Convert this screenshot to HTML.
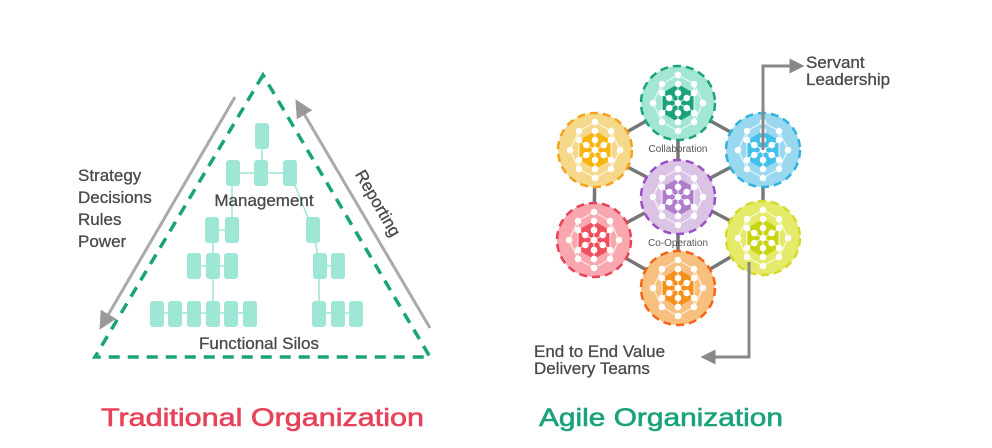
<!DOCTYPE html>
<html><head><meta charset="utf-8"><style>
html,body{margin:0;padding:0;background:#fff;}
svg{display:block;font-family:"Liberation Sans",sans-serif;}
</style></head><body>
<svg width="992" height="448" viewBox="0 0 992 448" xmlns="http://www.w3.org/2000/svg">
<defs>
<marker id="ah" markerWidth="6" markerHeight="6" refX="3" refY="3" orient="auto" markerUnits="strokeWidth">
<path d="M0,0 L6,3 L0,6 z" fill="#999"/></marker>
<marker id="ah2" markerWidth="5" markerHeight="5" refX="2.5" refY="2.5" orient="auto" markerUnits="strokeWidth">
<path d="M0,0 L5,2.5 L0,5 z" fill="#888"/></marker>
<g id="net">
<polygon points="0,-19 16.5,-9.5 16.5,9.5 0,19 -16.5,9.5 -16.5,-9.5" fill="currentColor"/>
<g stroke="#fff" stroke-width="1" opacity="0.9">
<line x1="0" y1="-28" x2="-16" y2="-19"/><line x1="0" y1="-28" x2="16" y2="-19"/>
<line x1="-25" y1="0" x2="-16" y2="-19"/><line x1="-25" y1="0" x2="-16" y2="19"/>
<line x1="25" y1="0" x2="16" y2="-19"/><line x1="25" y1="0" x2="16" y2="19"/>
<line x1="0" y1="28" x2="-16" y2="19"/><line x1="0" y1="28" x2="16" y2="19"/>
<line x1="-16" y1="-19" x2="-16" y2="19"/><line x1="16" y1="-19" x2="16" y2="19"/>
<line x1="0" y1="-19" x2="0" y2="19"/><line x1="-16" y1="-9" x2="16" y2="9"/><line x1="16" y1="-9" x2="-16" y2="9"/>
</g>
<g fill="#fff">
<circle r="3.3"/>
<circle cx="0" cy="-10" r="3.3"/><circle cx="8.7" cy="-5" r="3.3"/><circle cx="8.7" cy="5" r="3.3"/>
<circle cx="0" cy="10" r="3.3"/><circle cx="-8.7" cy="5" r="3.3"/><circle cx="-8.7" cy="-5" r="3.3"/>
<circle cx="0" cy="-19" r="3.3"/><circle cx="0" cy="19" r="3.3"/>
<circle cx="-16" cy="-10" r="3.3"/><circle cx="16" cy="-10" r="3.3"/><circle cx="-16" cy="10" r="3.3"/><circle cx="16" cy="10" r="3.3"/>
<circle cx="0" cy="-28" r="3.3"/><circle cx="-25" cy="0" r="3.3"/><circle cx="25" cy="0" r="3.3"/>
<circle cx="-16" cy="-19" r="3.3"/><circle cx="16" cy="-19" r="3.3"/><circle cx="-16" cy="19" r="3.3"/><circle cx="16" cy="19" r="3.3"/>
<circle cx="0" cy="28" r="3.3"/>
</g>
</g>
</defs>

<!-- Traditional -->
<polygon points="263,75 95,357 430,357" fill="none" stroke="#1aa37a" stroke-width="3.5" stroke-dasharray="11,8"/>
<line x1="235" y1="97" x2="104" y2="322" stroke="#aaa" stroke-width="3" marker-end="url(#ah)"/>
<line x1="430" y1="328" x2="300" y2="107" stroke="#aaa" stroke-width="3" marker-end="url(#ah)"/>

<g stroke="#9ee6d5" stroke-width="1.5" fill="none">
<line x1="262" y1="135" x2="262" y2="173"/><line x1="232" y1="173" x2="290" y2="173"/>
<line x1="232" y1="173" x2="232" y2="230"/><line x1="212" y1="230" x2="232" y2="230"/>
<line x1="213" y1="230" x2="213" y2="313"/><line x1="194" y1="266" x2="232" y2="266"/>
<line x1="157" y1="313" x2="250" y2="313"/>
<line x1="290" y1="173" x2="313" y2="230"/><line x1="313" y1="230" x2="320" y2="266"/>
<line x1="320" y1="266" x2="338" y2="266"/><line x1="319" y1="266" x2="319" y2="313"/>
<line x1="319" y1="313" x2="356" y2="313"/>
</g>
<g fill="#9ee6d5">
<rect x="255" y="123" width="14" height="26" rx="3"/>
<rect x="226" y="160" width="14" height="26" rx="3"/><rect x="254" y="160" width="14" height="26" rx="3"/><rect x="283" y="160" width="14" height="26" rx="3"/>
<rect x="205" y="217" width="14" height="26" rx="3"/><rect x="225" y="217" width="14" height="26" rx="3"/>
<rect x="187" y="253" width="14" height="26" rx="3"/><rect x="206" y="253" width="14" height="26" rx="3"/><rect x="224" y="253" width="14" height="26" rx="3"/>
<rect x="150" y="301" width="14" height="26" rx="3"/><rect x="168" y="301" width="14" height="26" rx="3"/><rect x="187" y="301" width="14" height="26" rx="3"/><rect x="206" y="301" width="14" height="26" rx="3"/><rect x="224" y="301" width="14" height="26" rx="3"/><rect x="243" y="301" width="14" height="26" rx="3"/>
<rect x="306" y="217" width="14" height="26" rx="3"/>
<rect x="313" y="253" width="14" height="26" rx="3"/><rect x="331" y="253" width="14" height="26" rx="3"/>
<rect x="312" y="301" width="14" height="26" rx="3"/><rect x="331" y="301" width="14" height="26" rx="3"/><rect x="349" y="301" width="14" height="26" rx="3"/>
</g>
<g fill="#4a4a4a" font-size="17" stroke="#4a4a4a" stroke-width="0.3">
<text x="78" y="181">Strategy</text>
<text x="78" y="203">Decisions</text>
<text x="78" y="225">Rules</text>
<text x="78" y="247">Power</text>
<text x="264" y="206" text-anchor="middle">Management</text>
<text x="259" y="349" text-anchor="middle">Functional Silos</text>
<text transform="translate(373,206) rotate(60)" text-anchor="middle">Reporting</text>
</g>

<!-- Agile -->
<g stroke="#777" stroke-width="3.5">
<line x1="678" y1="103" x2="595" y2="150"/><line x1="678" y1="103" x2="763" y2="150"/>
<line x1="595" y1="150" x2="594" y2="240"/><line x1="763" y1="150" x2="763" y2="238"/>
<line x1="594" y1="240" x2="678" y2="288"/><line x1="763" y1="238" x2="678" y2="288"/>
<line x1="678" y1="103" x2="678" y2="288"/>
<line x1="595" y1="150" x2="763" y2="238"/><line x1="763" y1="150" x2="594" y2="240"/>
</g>
<g stroke-width="2.5" stroke-dasharray="8,5">
<circle cx="678" cy="103" r="37" fill="#a3e6d3" stroke="#1aa37a"/>
<circle cx="595" cy="150" r="37" fill="#f5d88a" stroke="#f4a31a"/>
<circle cx="763" cy="150" r="37" fill="#99d8ee" stroke="#2fb3e0"/>
<circle cx="678" cy="197" r="37" fill="#dbc3e6" stroke="#9a4fc2"/>
<circle cx="594" cy="240" r="37" fill="#f7a7ad" stroke="#e8415a"/>
<circle cx="763" cy="238" r="37" fill="#e6ea6a" stroke="#d4d92a"/>
<circle cx="678" cy="288" r="37" fill="#f7c07f" stroke="#f0651a"/>
</g>
<use href="#net" x="678" y="103" style="color:#1aa37a"/>
<use href="#net" x="595" y="150" style="color:#f9b40c"/>
<use href="#net" x="763" y="150" style="color:#40c0ea"/>
<use href="#net" x="678" y="197" style="color:#b07ccc"/>
<use href="#net" x="594" y="240" style="color:#f0505e"/>
<use href="#net" x="763" y="238" style="color:#c8d410"/>
<use href="#net" x="678" y="288" style="color:#f5901a"/>
<g fill="#555" font-size="10" text-anchor="middle">
<text x="678" y="152">Collaboration</text>
<text x="678" y="246">Co-Operation</text>
</g>
<polyline points="763,150 763,66 797,66" fill="none" stroke="#888" stroke-width="3" marker-end="url(#ah2)"/>
<polyline points="749,262 749,357 708,357" fill="none" stroke="#888" stroke-width="3" marker-end="url(#ah2)"/>
<g fill="#4a4a4a" font-size="17" stroke="#4a4a4a" stroke-width="0.3">
<text x="806" y="68">Servant</text>
<text x="806" y="85">Leadership</text>
<text x="534" y="357">End to End Value</text>
<text x="534" y="374">Delivery Teams</text>
</g>

<text x="101" y="426" font-size="25" fill="#e8415a" stroke="#e8415a" stroke-width="0.6" textLength="323" lengthAdjust="spacingAndGlyphs">Traditional Organization</text>
<text x="539" y="426" font-size="25" fill="#1aa37a" stroke="#1aa37a" stroke-width="0.6" textLength="244" lengthAdjust="spacingAndGlyphs">Agile Organization</text>
</svg>
</body></html>
